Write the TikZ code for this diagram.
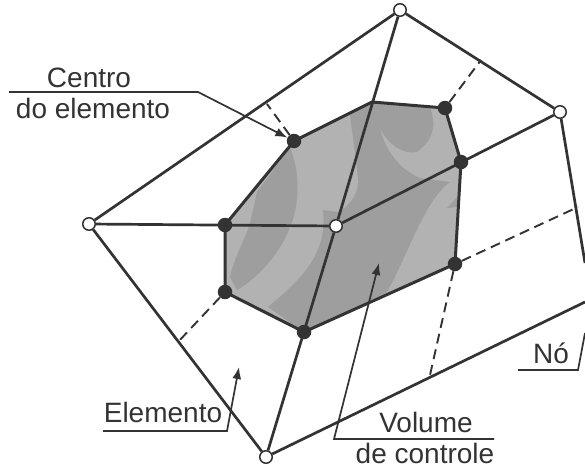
\documentclass[tikz,border=0pt]{standalone}
\usepackage{fontspec}
\setmainfont{Liberation Sans}
\usepackage{tikz}
\usetikzlibrary{arrows.meta}
\definecolor{inkdark}{RGB}{51,51,51}
\definecolor{shadelight}{RGB}{178,178,178}
\definecolor{shadedark}{RGB}{158,158,158}
\tikzset{
  opennode/.style={circle,draw=inkdark,fill=white,line width=1.5pt,minimum size=12.5pt,inner sep=0pt},
  dotnode/.style={circle,fill=inkdark,minimum size=14.5pt,inner sep=0pt},
  meshline/.style={draw=inkdark,line width=2.7pt},
  dashline/.style={draw=inkdark,line width=1.9pt,dash pattern=on 10pt off 6pt},
  leaderline/.style={draw=inkdark,line width=1.7pt},
  labeltext/.style={text=inkdark,font=\fontsize{28}{28}\selectfont,anchor=base,inner sep=0pt}
}
\begin{document}
\begin{tikzpicture}[x=1pt,y=-1pt,>={Latex[length=12pt,width=9pt]}]
\useasboundingbox (0,0) rectangle (585,471);
% volume de controle
\coordinate (p1) at (294,141);
\coordinate (p2) at (372,102);
\coordinate (p3) at (445,108);
\coordinate (p4) at (461,162);
\coordinate (p5) at (455,264);
\coordinate (p6) at (304,332);
\coordinate (p7) at (225,292);
\coordinate (p8) at (225,225);
\fill[shadelight] (p1) -- (p2) -- (p3) -- (p4) -- (p5) -- (p6) -- (p7) -- (p8) -- cycle;
\fill[shadedark] (290,148) .. controls (300,170) and (300,205) .. (290,227)
  .. controls (280,255) and (255,280) .. (237,290) -- (230,277)
  .. controls (235,255) and (245,240) .. (250,223) -- (257,192) -- cycle;
\fill[shadedark] (350,115) -- (p2) -- (430,108)
  .. controls (437,125) and (433,140) .. (417,152)
  .. controls (400,155) and (385,140) .. (380,128)
  .. controls (385,150) and (400,170) .. (420,178) -- (450,182)
  .. controls (425,200) and (410,250) .. (387,292) -- (p6) -- (268,307)
  .. controls (300,280) and (328,255) .. (323,210) -- (338,212)
  .. controls (352,205) and (360,190) .. (358,177) -- cycle;
\fill[shadedark] (457,197) -- (447,208) -- (458,207) -- cycle;
\draw[meshline,line width=3pt,line join=round] (p1) -- (p2) -- (p3) -- (p4) -- (p5) -- (p6) -- (p7) -- (p8) -- cycle;
% nos da malha
\node[opennode] (ctr) at (336,226) {};
\node[opennode] (top) at (400,10) {};
\node[opennode] (rgt) at (560,112) {};
\node[opennode] (lft) at (89,224) {};
\node[opennode] (bot) at (266,457) {};
\coordinate (rgtA) at (585,263);
\coordinate (rgtB) at (585,302);
% centros
\node[dotnode] (d1) at (p1) {};
\node[dotnode] (d3) at (p3) {};
\node[dotnode] (d4) at (p4) {};
\node[dotnode] (d5) at (p5) {};
\node[dotnode] (d6) at (p6) {};
\node[dotnode] (d7) at (p7) {};
\node[dotnode] (d8) at (p8) {};
% elementos
\draw[meshline] (ctr) -- (top);
\draw[meshline] (ctr) -- (rgt);
\draw[meshline] (ctr) -- (lft);
\draw[meshline] (ctr) -- (bot);
\draw[meshline] (lft) -- (top);
\draw[meshline] (top) -- (rgt);
\draw[meshline] (lft) -- (bot);
\draw[meshline] (rgt) -- (rgtA);
\draw[meshline] (bot) -- (rgtB);
% faces
\coordinate (f1) at (267,104);
\coordinate (f2) at (481,60);
\coordinate (f3) at (578,207);
\coordinate (f4) at (430,375);
\coordinate (f5) at (178,342);
\draw[dashline] (d1) -- (f1);
\draw[dashline] (d3) -- (f2);
\draw[dashline] (d5) -- (f3);
\draw[dashline] (d5) -- (f4);
\draw[dashline] (d7) -- (f5);
% legendas
\node[labeltext] (lblcentro) at (89,87) {Centro};
\node[labeltext] (lbldo) at (93,118) {do elemento};
\node[labeltext] (lblelem) at (163,422) {Elemento};
\node[labeltext] (lblvol) at (426,432) {Volume};
\node[labeltext] (lblde) at (425,463) {de controle};
\node[labeltext] (lblno) at (551,363) {Nó};
\coordinate (a1) at (9,92);
\coordinate (a2) at (198,92);
\coordinate (b1) at (103,431);
\coordinate (b2) at (227,431);
\coordinate (b3) at (239,367);
\coordinate (c1) at (494,439);
\coordinate (c2) at (334,439);
\coordinate (c3) at (379,263);
\coordinate (e1) at (518,370);
\coordinate (e2) at (578,370);
\coordinate (e3) at (585,333);
\draw[leaderline,->] (a1) -- (a2) -- (d1);
\draw[leaderline,->] (b1) -- (b2) -- (b3);
\draw[leaderline,->] (c1) -- (c2) -- (c3);
\draw[leaderline] (e1) -- (e2) -- (e3);
\end{tikzpicture}
\end{document}
